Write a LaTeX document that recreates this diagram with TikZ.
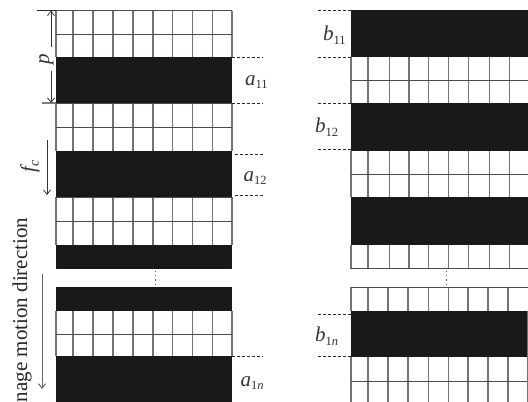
\documentclass[tikz,border=0pt]{standalone}
\usepackage{fontspec}
\setmainfont{Liberation Serif}
\usetikzlibrary{arrows.meta}
\definecolor{ink}{HTML}{171A17}
\newcommand{\lbl}[2]{{\fontsize{21}{21}\selectfont\itshape #1}\raisebox{-3.5pt}{\fontsize{12.5}{12.5}\selectfont #2}}
\newcommand{\lbln}[1]{{\fontsize{21}{21}\selectfont\itshape #1}\raisebox{-3.5pt}{\fontsize{12.5}{12.5}\selectfont 1\itshape n}}
\tikzset{
  x=1pt,y=-1pt,
  band/.style={fill=ink,draw=none},
  vline/.style={draw=black!55,line width=1.1pt},
  hline/.style={draw=black!70,line width=0.9pt},
  dashline/.style={draw=black!85,line width=0.7pt,dash pattern=on 3pt off 2pt},
  tick/.style={draw=black!85,line width=0.9pt},
  arrow/.style={draw=black!80,line width=0.8pt,-{Straight Barb[length=4.5pt,width=7pt]}},
  lab/.style={inner sep=0pt,outer sep=0pt,text=black!80},
  dots/.style={draw=black!65,line width=0.9pt,dash pattern=on 1.2pt off 3pt}
}
\begin{document}
\begin{tikzpicture}
\useasboundingbox (0,0) rectangle (528,402);
\fill[white] (0,0) rectangle (528,402);
% ---- left panel grids
\foreach \ya/\yb in {10.5/57,103/151,197/244.5,310.5/356}{
  \foreach \x in {56,73,93,113,133,153,172.5,192.5,212.5,232}
    \draw[vline] (\x,\ya) -- (\x,\yb);
}
\foreach \y in {10.5,34,103.5,127.5,197,221,334.5}
  \draw[hline] (56,\y) -- (232,\y);
% ---- left panel bands
\fill[band] (56,57) rectangle (232,103);
\fill[band] (56,151) rectangle (232,197);
\fill[band] (56,244.5) rectangle (232,268.5);
\fill[band] (56,287) rectangle (232,310.5);
\fill[band] (56,356) rectangle (232,402);
\draw[dots] (155,271) -- (155,284);
% ---- right panel grids
\foreach \ya/\yb in {57/103,151/197,244.5/268.5}{
  \foreach \x in {351,368,389.3,409,428.7,448.3,468.7,489.3,509.7}
    \draw[vline] (\x,\ya) -- (\x,\yb);
}
\foreach \ya/\yb in {287/310.5,356.5/402}{
  \foreach \x in {351,368,388,408,428.7,448.3,468,488,508}
    \draw[vline] (\x,\ya) -- (\x,\yb);
}
\foreach \y in {80,174.5,268.5,287,381}
  \draw[hline] (351,\y) -- (528,\y);
% ---- right panel bands
\fill[band] (351,10) rectangle (528,57);
\fill[band] (351,103) rectangle (528,151);
\fill[band] (351,197) rectangle (528,244.5);
\fill[band] (351,310.5) rectangle (527,356.5);
\draw[vline] (527.5,310.5) -- (527.5,402);
\draw[dots] (446,271) -- (446,284);
% ---- dimension coordinates
\coordinate (t1) at (37,10.5); \coordinate (t2) at (56,10.5);
\coordinate (b1) at (42,103);  \coordinate (b2) at (56,103);
\draw[tick] (t1) -- (t2);
\draw[tick,black!50,line width=1.2pt] (b1) -- (b2);
\node[lab,rotate=90] (p) at (46.5,59) {\fontsize{21}{21}\selectfont\itshape p};
\coordinate (pt) at (51,10.5); \coordinate (pb) at (51,103);
\coordinate (pu) at (51,47); \coordinate (pl) at (51,71);
\draw[arrow] (pu) -- (pt);
\draw[arrow] (pl) -- (pb);
\node[lab,rotate=90] (fc) at (30,166.5) {\fontsize{21}{21}\selectfont\itshape f\raisebox{-3.5pt}{\fontsize{14}{14}\selectfont c}};
\coordinate (f1) at (47,140); \coordinate (f2) at (47,195);
\draw[arrow] (f1) -- (f2);
\node[lab,rotate=90,anchor=west,text=black!85] (motion) at (22,402) {\fontsize{21}{21}\selectfont nage motion direction};
\coordinate (m1) at (42,274); \coordinate (m2) at (42,389);
\draw[arrow,draw=black!60,line width=1pt] (m1) -- (m2);
% ---- dashed extents, left
\foreach \n/\xa/\y in {A/232/57,B/232/103,C/235/154,D/235/195.5,E/232/356}{
  \coordinate (\n1) at (\xa,\y); \coordinate (\n2) at (263,\y);
  \draw[dashline] (\n1) -- (\n2);
}
% ---- dashed extents, right
\foreach \n/\y in {F/10.5,G/57,H/103,I/149.5,J/314.5,K/356}{
  \coordinate (\n1) at (318,\y); \coordinate (\n2) at (351,\y);
  \draw[dashline] (\n1) -- (\n2);
}
% ---- labels
\node[lab,anchor=west] (a11) at (245,82) {\lbl{a}{11}};
\node[lab,anchor=west] (a12) at (243.5,178) {\lbl{a}{12}};
\node[lab,anchor=west] (a1n) at (240.5,383) {\lbln{a}};
\node[lab,anchor=west] (b11) at (323,35) {\lbl{b}{11}};
\node[lab,anchor=west] (b12) at (315,127) {\lbl{b}{12}};
\node[lab,anchor=west] (b1n) at (315,336) {\lbln{b}};
\end{tikzpicture}
\end{document}
